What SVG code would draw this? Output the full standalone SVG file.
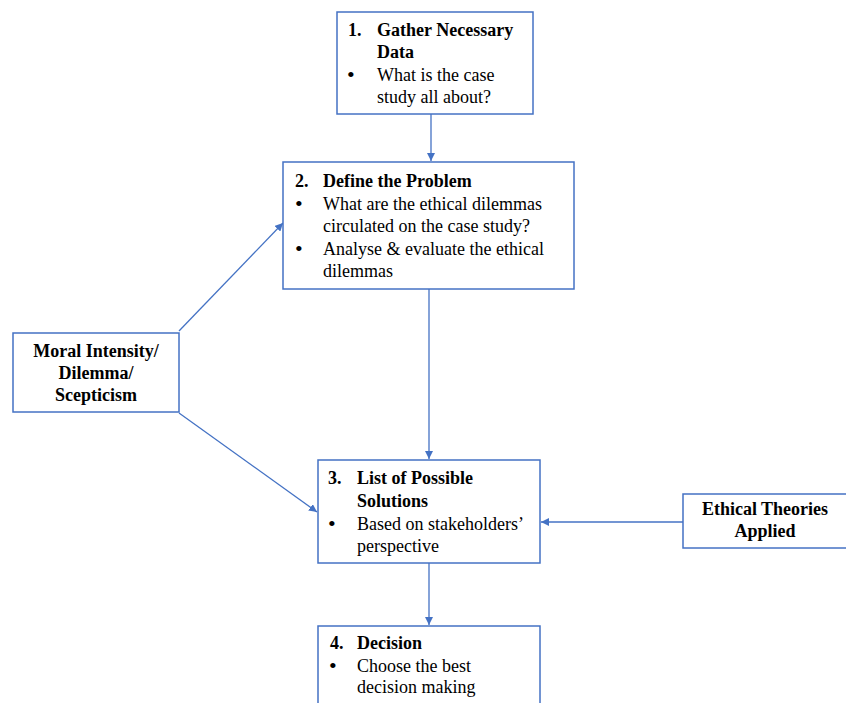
<svg xmlns="http://www.w3.org/2000/svg" width="846" height="703" viewBox="0 0 846 703">
<style>
.box{fill:#fff;stroke:#4472C4;stroke-width:1.5}
.ln{stroke:#4472C4;stroke-width:1.3;fill:none}
</style>
<defs>
<marker id="ah" viewBox="0 0 10 10" refX="10" refY="5" markerWidth="8" markerHeight="8" markerUnits="userSpaceOnUse" orient="auto">
<path d="M0,0 L10,5 L0,10 z" fill="#4472C4"/>
</marker>
</defs>
<rect width="846" height="703" fill="#fff"/>
<g id="connectors">
<line class="ln" x1="431" y1="114" x2="431" y2="161" marker-end="url(#ah)"/>
<line class="ln" x1="429" y1="289" x2="429" y2="459" marker-end="url(#ah)"/>
<line class="ln" x1="429" y1="563" x2="429" y2="625" marker-end="url(#ah)"/>
<line class="ln" x1="179" y1="331" x2="283" y2="223" marker-end="url(#ah)"/>
<line class="ln" x1="179" y1="413" x2="317" y2="512" marker-end="url(#ah)"/>
<line class="ln" x1="683" y1="522" x2="541" y2="522" marker-end="url(#ah)"/>
</g>
<g font-family="Liberation Serif" font-size="18" fill="#000">
<g id="n1">
<rect class="box" x="337" y="12" width="196" height="102"/>
<text x="348" y="36" font-weight="bold">1.</text>
<text x="377" y="36" font-weight="bold">Gather Necessary</text>
<text x="377" y="58" font-weight="bold">Data</text>
<text x="347" y="82" font-size="22">•</text>
<text x="377" y="81">What is the case</text>
<text x="377" y="103">study all about?</text>
</g>
<g id="n2">
<rect class="box" x="283" y="162" width="291" height="127"/>
<text x="295" y="187" font-weight="bold">2.</text>
<text x="323" y="187" font-weight="bold">Define the Problem</text>
<text x="295" y="211" font-size="22">•</text>
<text x="323" y="210">What are the ethical dilemmas</text>
<text x="323" y="232">circulated on the case study?</text>
<text x="295" y="256" font-size="22">•</text>
<text x="323" y="255">Analyse &amp; evaluate the ethical</text>
<text x="323" y="277">dilemmas</text>
</g>
<g id="moral" text-anchor="middle" font-weight="bold">
<rect class="box" x="13" y="333" width="166" height="79"/>
<text x="96" y="357">Moral Intensity/</text>
<text x="96" y="379">Dilemma/</text>
<text x="96" y="401">Scepticism</text>
</g>
<g id="n3">
<rect class="box" x="318" y="460" width="222" height="103"/>
<text x="328" y="484" font-weight="bold">3.</text>
<text x="357" y="484" font-weight="bold">List of Possible</text>
<text x="357" y="507" font-weight="bold">Solutions</text>
<text x="328" y="531" font-size="22">•</text>
<text x="357" y="530">Based on stakeholders’</text>
<text x="357" y="552">perspective</text>
</g>
<g id="ethical" text-anchor="middle" font-weight="bold">
<rect class="box" x="683" y="494" width="170" height="54"/>
<text x="765" y="515">Ethical Theories</text>
<text x="765" y="537">Applied</text>
</g>
<g id="n4">
<rect class="box" x="318" y="626" width="222" height="90"/>
<text x="330" y="649" font-weight="bold">4.</text>
<text x="357" y="649" font-weight="bold">Decision</text>
<text x="329" y="673" font-size="22">•</text>
<text x="357" y="672">Choose the best</text>
<text x="357" y="693">decision making</text>
</g>
</g>
</svg>
